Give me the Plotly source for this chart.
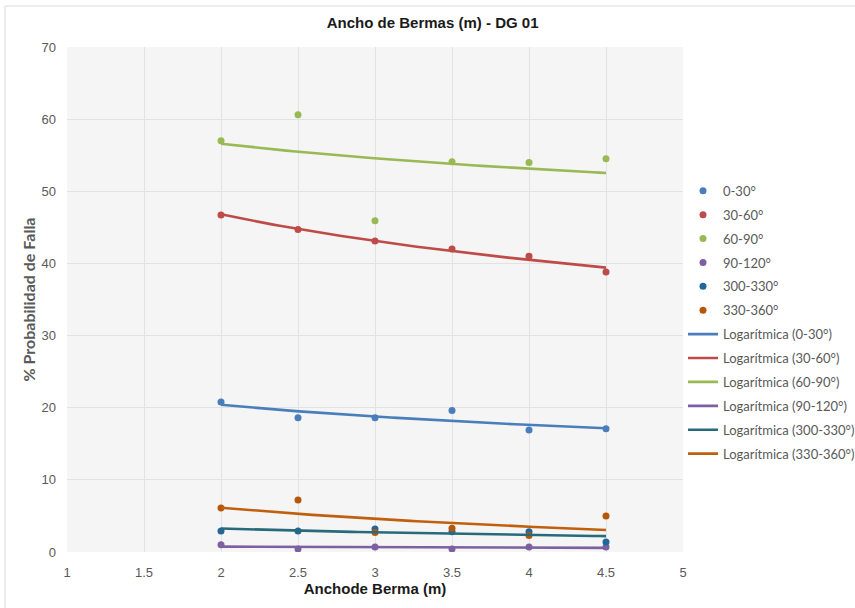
import numpy as np
import plotly.graph_objects as go

# Ancho de berma (m)
berma = [2, 2.5, 3, 3.5, 4, 4.5]

# % probabilidad de falla por familia de orientación
p_0_30 = [20.8, 18.6, 18.6, 19.6, 16.9, 17.1]
p_30_60 = [46.7, 44.7, 43.1, 42.0, 41.0, 38.8]
p_60_90 = [57.0, 60.6, 45.9, 54.1, 54.0, 54.5]
p_90_120 = [1.0, 0.4, 0.7, 0.4, 0.7, 0.7]
p_300_330 = [2.9, 2.9, 3.2, 2.8, 2.8, 1.4]
p_330_360 = [6.1, 7.2, 2.7, 3.3, 2.3, 5.0]

series_names = ["0-30°", "30-60°", "60-90°", "90-120°", "300-330°", "330-360°"]
series_vals = [p_0_30, p_30_60, p_60_90, p_90_120, p_300_330, p_330_360]
marker_colors = ["#4A7EBB", "#BE4B48", "#98B954", "#7D60A0", "#23679A", "#B65708"]
line_colors = ["#4A7EBB", "#BE4B48", "#98B954", "#7D60A0", "#276A7C", "#C0600E"]

x_ticks = [1, 1.5, 2, 2.5, 3, 3.5, 4, 4.5, 5]

fig = go.Figure()

# scatter points
for i, (name, vals) in enumerate(zip(series_names, series_vals)):
    fig.add_trace(go.Scatter(
        x=berma, y=vals, mode="markers", name=name,
        legendgroup=f"p{i}",
        marker=dict(color=marker_colors[i], size=7),
    ))

# logarithmic trendlines: y = a*ln(x) + b, least squares
xb = np.array(berma, dtype=float)
xs = np.linspace(xb.min(), xb.max(), 60)
for i, (name, vals) in enumerate(zip(series_names, series_vals)):
    a, b = np.polyfit(np.log(xb), np.array(vals, dtype=float), 1)
    fig.add_trace(go.Scatter(
        x=xs, y=a * np.log(xs) + b, mode="lines",
        name=f"Logarítmica ({name})",
        legendgroup=f"t{i}",
        line=dict(color=line_colors[i], width=2.6),
    ))

tick_font = dict(family="Liberation Sans Narrow, Arial Narrow, sans-serif", size=13, color="#595959")

fig.update_layout(
    width=855, height=608,
    margin=dict(l=67, r=172, t=47, b=56, autoexpand=False),
    paper_bgcolor="white",
    plot_bgcolor="#f5f5f5",
    title=dict(
        text="<b>Ancho de Bermas (m) - DG 01</b>",
        x=0.506, xanchor="center", y=0.963, yanchor="middle",
        font=dict(family="Liberation Sans Narrow, Arial Narrow, sans-serif", size=15, color="#1a1a1a"),
    ),
    xaxis=dict(
        range=[1, 5], tickvals=x_ticks, ticktext=[f"{v:g}" for v in x_ticks],
        showgrid=True, gridcolor="#e2e2e2", gridwidth=1,
        zeroline=False, showline=False, ticks="",
        tickfont=tick_font, ticklabelstandoff=11,
        title=dict(text="<b>Anchode Berma (m)</b>", standoff=4,
                   font=dict(family="Liberation Sans Narrow, Arial Narrow, sans-serif", size=15, color="#1a1a1a")),
    ),
    yaxis=dict(
        range=[0, 70], dtick=10,
        showgrid=True, gridcolor="#e2e2e2", gridwidth=1,
        zeroline=False, showline=False, ticks="",
        tickfont=tick_font, ticklabelstandoff=10,
        title=dict(text="<b>% Probabilidad de Falla</b>", standoff=1,
                   font=dict(family="Lato, Open Sans, sans-serif", size=16, color="#595959")),
    ),
    legend=dict(
        x=1.0, xanchor="left", y=0.745, yanchor="top",
        font=dict(family="Lato, Open Sans, sans-serif", size=13, color="#595959"),
        bgcolor="rgba(0,0,0,0)", tracegroupgap=4, itemwidth=30,
    ),
    showlegend=True,
)

# outer chart frame
fig.add_shape(type="line", xref="paper", yref="paper",
              x0=(5 - 67) / 616, x1=(855 - 67) / 616, y0=(552 - 6) / 505, y1=(552 - 6) / 505,
              line=dict(color="#d9d9d9", width=1))
fig.add_shape(type="line", xref="paper", yref="paper",
              x0=(5 - 67) / 616, x1=(5 - 67) / 616, y0=(552 - 6) / 505, y1=(552 - 608) / 505,
              line=dict(color="#d9d9d9", width=1))

fig.write_html("out.html")
